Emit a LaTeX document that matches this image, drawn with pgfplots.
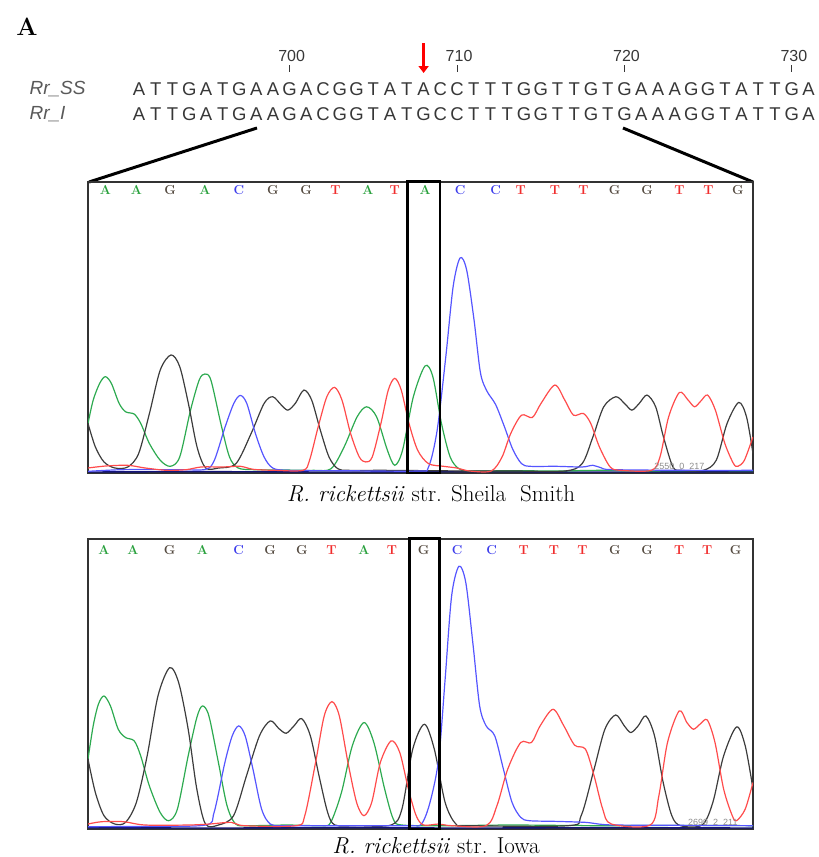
\documentclass[border=0pt]{standalone}
\usepackage{pgfplots}
\pgfplotsset{compat=1.18}
\usepackage{fontspec}
\newfontfamily\arial{Liberation Sans}
\usetikzlibrary{arrows.meta}

% trace colours
\definecolor{trA}{RGB}{45,170,80}
\definecolor{trC}{RGB}{85,85,255}
\definecolor{trG}{RGB}{60,60,60}
\definecolor{trT}{RGB}{255,75,75}
\definecolor{trN}{RGB}{20,20,120}
% base call letters
\definecolor{ltA}{RGB}{40,160,60}
\definecolor{ltC}{RGB}{60,60,235}
\definecolor{ltG}{RGB}{85,75,65}
\definecolor{ltT}{RGB}{240,45,45}
\definecolor{seq}{RGB}{55,55,55}

\newcommand{\bs}[3]{\node[text=#3,font=\fontsize{13}{13}\selectfont\bfseries] at (axis cs:#1) {#2};}

\pgfplotsset{chrom/.style={
  scale only axis, width=665pt,
  xtick=\empty, ytick=\empty,
  axis line style={line width=1.4pt, color=black!80},
  clip mode=individual,
  every axis plot/.append style={smooth, tension=0.5, line width=1.2pt, no marks},
}}

\begin{document}
\begin{tikzpicture}
\useasboundingbox (0,0) rectangle (819pt,-857pt);

% header
\node[font=\fontsize{25}{25}\selectfont\bfseries] at (27pt,-27pt) {A};
\node[anchor=west, text=black!65, font=\arial\itshape\fontsize{19}{19}\selectfont] at (26pt,-89pt) {Rr\_SS};
\node[anchor=west, text=black!65, font=\arial\itshape\fontsize{19}{19}\selectfont] at (26pt,-114pt) {Rr\_I};
\foreach \c [count=\i from 0] in {A,T,T,G,A,T,G,A,A,G,A,C,G,G,T,A,T,A,C,C,T,T,T,G,G,T,T,G,T,G,A,A,A,G,G,T,A,T,T,G,A}
  \node[text=seq, font=\arial\fontsize{18.5}{18.5}\selectfont] at ({(139+\i*16.74)*1pt},-89pt) {\c};
\foreach \c [count=\i from 0] in {A,T,T,G,A,T,G,A,A,G,A,C,G,G,T,A,T,G,C,C,T,T,T,G,G,T,T,G,T,G,A,A,A,G,G,T,A,T,T,G,A}
  \node[text=seq, font=\arial\fontsize{18.5}{18.5}\selectfont] at ({(139+\i*16.74)*1pt},-114pt) {\c};
\foreach \n/\i in {700/9,710/19,720/29,730/39} {
  \node[text=seq, font=\arial\fontsize{16}{16}\selectfont] at ({(141+\i*16.74)*1pt},-56pt) {\n};
  \draw[seq, line width=1pt] ({(139+\i*16.74)*1pt},-65pt) -- ({(139+\i*16.74)*1pt},-72pt);
}
\draw[red, line width=3.5pt, -{Triangle[width=10pt,length=7pt]}] (423.6pt,-43pt) -- (423.6pt,-73pt);
\draw[line width=3pt] (257pt,-128pt) -- (89pt,-182pt);
\draw[line width=3pt] (623pt,-128pt) -- (753pt,-182pt);

% Sheila Smith
\begin{axis}[chrom, at={(88pt,-473pt)}, anchor=south west, height=291pt,
  xmin=18, xmax=1555, ymin=0, ymax=870]
\addplot[trN, line width=1.4pt] coordinates {(18,3)(300,4)(600,3)(900,4)(1200,3)(1555,4)};
\addplot[trA] coordinates {(18,148)(30,218)(45,268)(58,288)(72,268)(90,208)(105,183)(125,176)(140,148)(160,88)(185,38)(208,20)(230,48)(255,188)(275,278)(288,296)(302,278)(325,148)(345,48)(365,15)(400,10)(470,9)(540,8)(580,13)(610,78)(640,168)(662,198)(685,168)(710,68)(727,23)(745,68)(770,228)(797,320)(815,288)(835,148)(855,48)(875,13)(900,6)(1000,7)(1100,6)(1200,8)(1300,6)(1400,7)(1555,7)};
\addplot[trG] coordinates {(18,148)(35,78)(55,33)(80,15)(110,18)(135,58)(160,178)(185,308)(210,353)(230,318)(250,208)(270,78)(290,15)(320,15)(360,28)(395,118)(425,208)(445,228)(465,203)(480,188)(497,208)(517,248)(535,218)(555,128)(575,48)(595,13)(620,8)(700,8)(800,7)(900,6)(1000,6)(1120,6)(1160,28)(1185,108)(1210,198)(1238,228)(1258,208)(1275,188)(1292,208)(1310,233)(1330,198)(1348,108)(1370,18)(1390,8)(1440,8)(1470,38)(1495,148)(1522,211)(1540,168)(1555,58)};
\addplot[trC] coordinates {(18,5)(100,10)(230,10)(290,11)(310,38)(335,138)(355,208)(370,232)(385,208)(405,118)(425,48)(445,15)(480,8)(600,7)(780,6)(805,18)(825,128)(845,348)(862,558)(878,643)(893,608)(910,460)(925,300)(940,245)(960,205)(980,140)(1000,70)(1020,28)(1040,20)(1100,20)(1160,18)(1185,23)(1205,15)(1230,10)(1400,8)(1555,8)};
\addplot[trT] coordinates {(18,15)(60,21)(110,23)(150,15)(200,8)(245,10)(280,18)(330,18)(370,20)(400,11)(450,8)(515,8)(530,38)(550,138)(570,228)(588,256)(605,218)(625,118)(645,48)(660,33)(675,48)(695,148)(712,248)(727,283)(742,248)(760,148)(780,68)(805,28)(840,20)(870,15)(900,6)(950,6)(975,48)(995,118)(1020,173)(1045,166)(1065,208)(1097,263)(1120,218)(1140,173)(1163,178)(1180,148)(1200,78)(1225,18)(1250,8)(1320,8)(1340,48)(1360,168)(1385,241)(1405,218)(1420,198)(1435,216)(1450,233)(1468,188)(1490,88)(1510,28)(1520,20)(1535,38)(1555,108)};
\bs{58,846}{A}{ltA}\bs{130,846}{A}{ltA}\bs{208,846}{G}{ltG}\bs{288,846}{A}{ltA}
\bs{367,846}{C}{ltC}\bs{445,846}{G}{ltG}\bs{522,846}{G}{ltG}\bs{590,846}{T}{ltT}
\bs{665,846}{A}{ltA}\bs{727,846}{T}{ltT}\bs{797,846}{A}{ltA}\bs{878,846}{C}{ltC}
\bs{960,846}{C}{ltC}\bs{1018,846}{T}{ltT}\bs{1097,846}{T}{ltT}\bs{1163,846}{T}{ltT}
\bs{1235,846}{G}{ltG}\bs{1310,846}{G}{ltG}\bs{1385,846}{T}{ltT}\bs{1452,846}{T}{ltT}
\bs{1520,846}{G}{ltG}
\node[text=black!45, font=\arial\fontsize{9}{9}\selectfont, anchor=south] at (axis cs:1385,0) {2550\ \ 0\ \ 217};
\draw[line width=2.5pt] (axis cs:757,0) rectangle (axis cs:832,872);
\end{axis}
\node[font=\fontsize{23}{23}\selectfont] at (431pt,-494pt) {\textit{R. rickettsii} str. Sheila\ \ Smith};

% Iowa
\begin{axis}[chrom, at={(88pt,-829pt)}, anchor=south west, height=290pt,
  xmin=18, xmax=1558, ymin=0, ymax=872]
\addplot[trN, line width=1.4pt] coordinates {(18,4)(300,3)(600,4)(900,3)(1200,4)(1558,3)};
\addplot[trA] coordinates {(18,210)(30,310)(42,375)(55,400)(70,370)(88,300)(105,275)(125,265)(140,220)(160,130)(185,50)(205,25)(225,60)(250,220)(270,335)(283,370)(298,340)(320,200)(340,70)(360,15)(390,10)(480,12)(560,10)(580,20)(605,110)(630,250)(657,320)(680,260)(705,120)(725,30)(745,12)(850,10)(1000,12)(1200,10)(1400,11)(1558,10)};
\addplot[trG] coordinates {(18,210)(35,110)(55,40)(80,15)(105,20)(130,80)(155,220)(180,400)(207,485)(228,440)(250,300)(270,120)(290,15)(320,12)(355,40)(385,160)(415,280)(440,325)(460,302)(477,288)(495,310)(513,332)(533,280)(553,160)(573,50)(590,12)(640,10)(720,12)(745,60)(770,240)(797,315)(820,240)(845,80)(870,15)(900,10)(1130,10)(1160,40)(1190,180)(1215,300)(1240,343)(1260,310)(1275,290)(1292,310)(1310,340)(1330,280)(1350,140)(1370,40)(1390,10)(1440,12)(1465,80)(1490,220)(1520,307)(1540,250)(1558,120)};
\addplot[trC] coordinates {(18,7)(150,8)(290,12)(310,50)(335,200)(352,280)(367,310)(382,280)(400,180)(420,60)(440,15)(470,10)(600,10)(760,10)(790,15)(810,80)(830,210)(845,450)(860,700)(877,790)(893,740)(910,550)(925,370)(940,310)(960,280)(980,180)(1000,80)(1020,35)(1040,25)(1100,23)(1170,20)(1200,15)(1240,12)(1400,11)(1558,10)};
\addplot[trT] coordinates {(18,15)(50,22)(100,22)(150,12)(250,12)(300,15)(350,20)(380,10)(500,10)(520,40)(545,200)(565,340)(583,383)(600,340)(620,200)(640,80)(657,40)(675,80)(695,200)(720,265)(740,230)(760,120)(778,40)(795,12)(830,15)(860,10)(940,10)(965,70)(990,180)(1020,260)(1045,260)(1065,310)(1095,360)(1120,310)(1145,252)(1170,240)(1190,160)(1210,60)(1230,15)(1320,12)(1340,100)(1360,260)(1387,355)(1405,320)(1420,300)(1435,315)(1452,328)(1470,260)(1490,120)(1510,40)(1520,25)(1540,60)(1558,140)};
\bs{55,838}{A}{ltA}\bs{122,838}{A}{ltA}\bs{207,838}{G}{ltG}\bs{283,838}{A}{ltA}
\bs{367,838}{C}{ltC}\bs{440,838}{G}{ltG}\bs{513,838}{G}{ltG}\bs{582,838}{T}{ltT}
\bs{657,838}{A}{ltA}\bs{722,838}{T}{ltT}\bs{795,838}{G}{ltG}\bs{873,838}{C}{ltC}
\bs{953,838}{C}{ltC}\bs{1027,838}{T}{ltT}\bs{1097,838}{T}{ltT}\bs{1163,838}{T}{ltT}
\bs{1238,838}{G}{ltG}\bs{1313,838}{G}{ltG}\bs{1387,838}{T}{ltT}\bs{1452,838}{T}{ltT}
\bs{1518,838}{G}{ltG}
\node[text=black!45, font=\arial\fontsize{9}{9}\selectfont, anchor=south] at (axis cs:1465,0) {2699\ \ 2\ \ 211};
\draw[line width=2.5pt] (axis cs:762,0) rectangle (axis cs:832,874);
\end{axis}
\node[font=\fontsize{23}{23}\selectfont] at (436pt,-846pt) {\textit{R. rickettsii} str. Iowa};
\end{tikzpicture}
\end{document}
